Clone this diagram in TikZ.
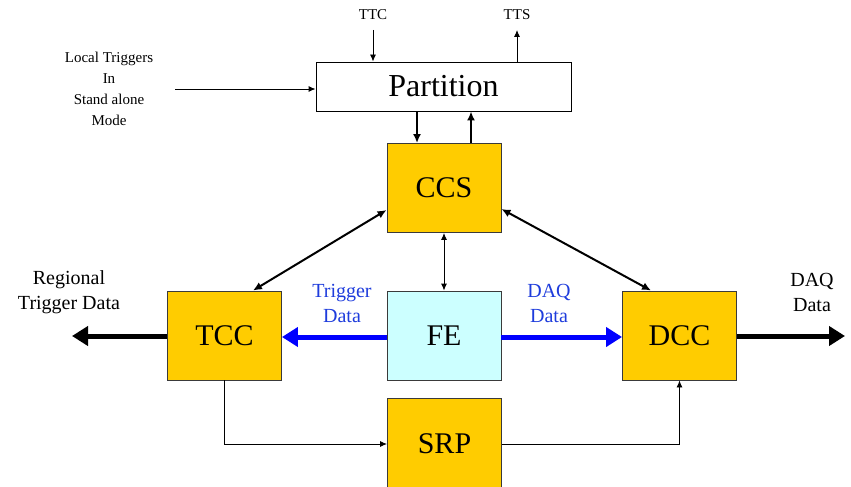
\documentclass[tikz,border=0pt]{standalone}
\usepackage{fontspec}
\setmainfont{Liberation Serif}
\usetikzlibrary{arrows.meta}
\definecolor{unitorange}{HTML}{FFCC00}
\definecolor{fecyan}{HTML}{CCFFFF}
\definecolor{flowblue}{HTML}{0000FF}
\definecolor{labelblue}{HTML}{1E3CDC}
\definecolor{edgegray}{HTML}{3A3A3A}
\tikzset{
  unit/.style={draw=edgegray, line width=0.9pt, fill=unitorange, minimum width=114pt,
    minimum height=89pt, inner sep=0pt, font=\fontsize{30}{34}\selectfont},
  febox/.style={unit, fill=fecyan},
  partbox/.style={draw=black, line width=0.9pt, fill=white, minimum width=255pt,
    minimum height=49pt, inner sep=0pt, font=\fontsize{32}{36}\selectfont},
  small/.style={font=\fontsize{15}{21}\selectfont, align=center, inner sep=0pt},
  mid/.style={font=\fontsize{20}{25}\selectfont, align=center, inner sep=0pt},
  midblue/.style={mid, text=labelblue},
  thinarr/.style={line width=0.9pt, -{Latex[length=7pt,width=6pt]}},
  thinboth/.style={line width=0.9pt, {Latex[length=7pt,width=6pt]}-{Latex[length=7pt,width=6pt]}},
  medarr/.style={line width=2pt, -{Latex[length=9pt,width=8pt]}},
  medboth/.style={line width=2pt, {Latex[length=9pt,width=8pt]}-{Latex[length=9pt,width=8pt]}},
  bigarr/.style={line width=5pt, -{Triangle[length=16pt,width=19pt]}},
  bluearr/.style={bigarr, draw=flowblue, -{Triangle[length=16pt,width=19pt,color=flowblue]}},
}
\begin{document}
\begin{tikzpicture}[x=1pt,y=-1pt]
\useasboundingbox (0,0) rectangle (851,487);

% boxes
\node[partbox] (part) at (443.5,86.5) {Partition};
\node[unit] (ccs) at (444,188) {CCS};
\node[unit] (tcc) at (224.5,335.5) {TCC};
\node[febox] (fe) at (444,335.5) {FE};
\node[unit] (dcc) at (679.5,335.5) {DCC};
\node[unit, minimum height=92pt] (srp) at (444.5,444) {SRP};

% outer labels
\node[small] (ttc) at (373,15) {TTC};
\node[small] (tts) at (517,15) {TTS};
\node[small] (local) at (109,89) {Local Triggers\\In\\Stand alone\\Mode};
\node[mid] (reg) at (69,292.5) {Regional\\Trigger Data};
\node[mid] (daq) at (812,292.5) {DAQ\\Data};
\node[midblue] (trig) at (342,303) {Trigger\\Data};
\node[midblue] (daqin) at (549,303) {DAQ\\Data};

\coordinate (ttcend) at (373,30);
\coordinate (ttsend) at (517,30);
\coordinate (localend) at (175,89);
\coordinate (regend) at (72,336);
\coordinate (daqend) at (845,336);

% partition links
\draw[thinarr] (ttcend) -- (part.north -| ttcend);
\draw[thinarr] (part.north -| ttsend) -- (ttsend);
\draw[thinarr] (localend) -- (part.west |- localend);
\draw[medarr] (part.south -| 417,0) -- (ccs.north -| 417,0);
\draw[medarr] (ccs.north -| 471,0) -- (part.south -| 471,0);

% control links
\draw[medboth] ([yshift=-22pt]ccs.west) -- ([xshift=-29pt]tcc.north east);
\draw[medboth] ([yshift=-21pt]ccs.east) -- ([xshift=29pt]dcc.north west);
\draw[thinboth] (ccs.south) -- (fe.north);

% data flow
\draw[bluearr] (fe.west |- 0,337) -- (tcc.east |- 0,337);
\draw[bluearr] (fe.east |- 0,337) -- (dcc.west |- 0,337);
\draw[bigarr] (tcc.west |- regend) -- (regend);
\draw[bigarr] (dcc.east |- daqend) -- (daqend);

% selective readout path
\draw[thinarr] (tcc.south) |- (srp.west);
\draw[thinarr] (srp.east) -| (dcc.south);
\end{tikzpicture}
\end{document}
